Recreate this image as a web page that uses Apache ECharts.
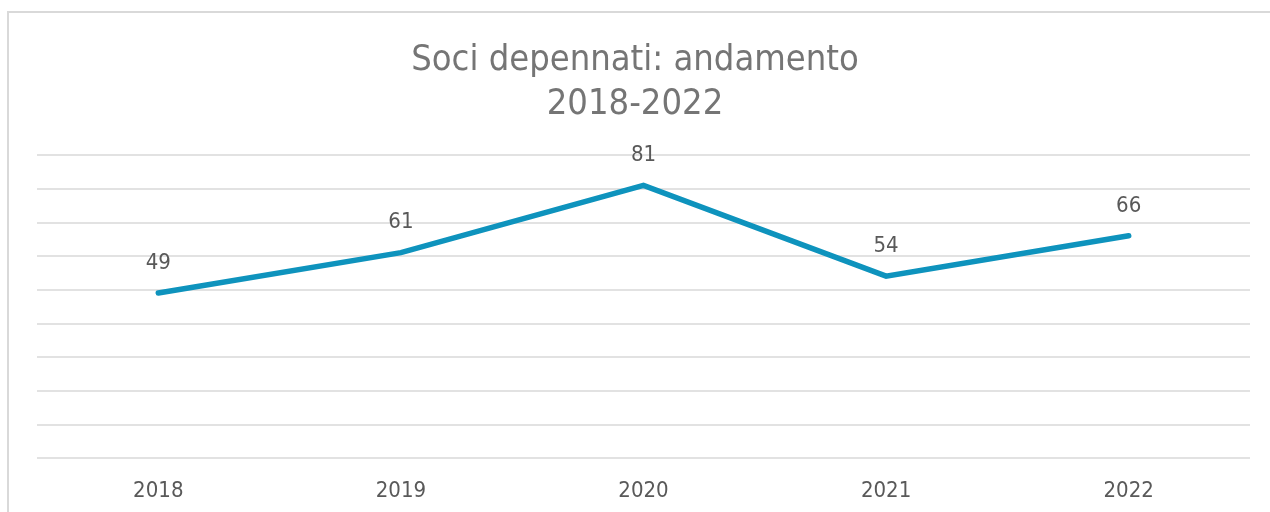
<!DOCTYPE html>
<html>
<head>
    <meta charset="utf-8">
    <script src="https://cdn.jsdelivr.net/npm/echarts@6.0.0/dist/echarts.min.js"></script>
    <style>
        * { margin: 0; padding: 0; box-sizing: border-box; }
        body { background: #fff; overflow: hidden; }
        .frame {
            position: absolute;
            left: 7px;
            top: 11px;
            width: 1300px;
            height: 600px;
            border-left: 2px solid #d9d9d9;
            border-top: 2px solid #d9d9d9;
        }
        #chart {
            position: absolute;
            left: 0;
            top: 0;
            width: 1270px;
            height: 512px;
        }
    </style>
</head>
<body>
    <div class="frame"></div>
    <div id="chart"></div>

    <script>
        // dati
        const years = ['2018', '2019', '2020', '2021', '2022'];
        const dropped = [49, 61, 81, 54, 66];

        const font = '"DejaVu Sans Condensed", "DejaVu Sans", sans-serif';

        const chart = echarts.init(document.getElementById('chart'));

        chart.setOption({
            animation: false,
            title: {
                text: 'Soci depennati: andamento\n2018-2022',
                left: 'center',
                top: 34,
                textStyle: {
                    fontFamily: font,
                    fontSize: 36,
                    lineHeight: 44,
                    fontWeight: 'normal',
                    color: '#757575'
                }
            },
            grid: {
                left: 37,
                right: 20,
                top: 155,
                bottom: 54
            },
            xAxis: {
                type: 'category',
                data: years,
                axisLine: { show: false },
                axisTick: { show: false },
                axisLabel: {
                    margin: 22,
                    fontFamily: font,
                    fontSize: 22,
                    color: '#595959'
                }
            },
            yAxis: {
                type: 'value',
                min: 0,
                max: 90,
                interval: 10,
                axisLabel: { show: false },
                axisLine: { show: false },
                axisTick: { show: false },
                splitLine: { lineStyle: { color: '#d9d9d9', width: 1.5 } }
            },
            series: [{
                type: 'line',
                data: dropped,
                symbol: 'circle',
                symbolSize: 2,
                itemStyle: { color: '#0e93bd', opacity: 0 },
                lineStyle: { color: '#0e93bd', width: 5.5, cap: 'round', join: 'miter' },
                label: {
                    show: true,
                    position: 'top',
                    distance: 18,
                    fontFamily: font,
                    fontSize: 22,
                    color: '#595959',
                    opacity: 1
                }
            }]
        });
    </script>
</body>
</html>
